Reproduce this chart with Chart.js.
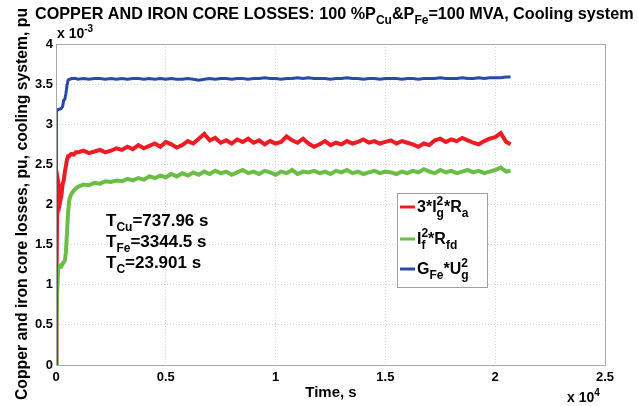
<!DOCTYPE html>
<html><head><meta charset="utf-8">
<script src="https://cdn.jsdelivr.net/npm/chart.js@4/dist/chart.umd.min.js"></script>
<style>html,body{margin:0;padding:0;background:#fff}#wrap{width:638px;height:406px;position:relative}</style>
</head><body><div id="wrap"><canvas id="c" width="638" height="406"></canvas></div>
<script>
// Time, s
const time = [0,20,50,100,150,200,250,300,350,400,450,500,550,600,650,700,800,900,
1000,1250,1500,1750,2000,2250,2500,2750,3000,3250,
3500,3750,4000,4250,4500,4750,5000,5250,5500,5750,
6000,6250,6500,6750,7000,7250,7500,7750,8000,8250,
8500,8750,9000,9250,9500,9750,10000,10250,10500,10750,
11000,11250,11500,11750,12000,12250,12500,12750,13000,13250,
13500,13750,14000,14250,14500,14750,15000,15250,15500,15750,
16000,16250,16500,16750,17000,17250,17500,17750,18000,18250,
18500,18750,19000,19250,19500,19750,20000,20250,20500,20700];
// 3*Ig^2*Ra  (x 10^-3 pu)
const copperLoss = [0,0.9,1.9,2.28,2.2,2.05,2.12,2.25,2.3,2.4,2.48,2.56,2.6,2.6,2.62,2.63,2.62,2.65,
2.65,2.67,2.64,2.66,2.68,2.65,2.67,2.70,2.68,2.72,
2.69,2.74,2.70,2.73,2.76,2.72,2.78,2.75,2.71,2.74,
2.79,2.76,2.82,2.88,2.80,2.83,2.77,2.80,2.76,2.81,
2.78,2.82,2.77,2.80,2.75,2.79,2.76,2.78,2.85,2.80,
2.77,2.82,2.76,2.72,2.75,2.79,2.74,2.77,2.75,2.79,
2.76,2.78,2.81,2.77,2.79,2.76,2.78,2.80,2.76,2.79,
2.77,2.75,2.72,2.76,2.74,2.80,2.82,2.78,2.81,2.79,
2.83,2.80,2.77,2.75,2.79,2.82,2.84,2.89,2.78,2.75];
// If^2*Rfd
const fieldLoss = [0,0.55,0.9,1.2,1.22,1.24,1.23,1.26,1.28,1.3,1.4,1.65,1.9,2.05,2.1,2.13,2.17,2.2,
2.22,2.25,2.24,2.27,2.26,2.29,2.28,2.30,2.29,2.32,
2.30,2.33,2.31,2.35,2.33,2.36,2.34,2.38,2.35,2.39,
2.36,2.40,2.37,2.41,2.38,2.42,2.39,2.41,2.37,2.40,
2.43,2.39,2.41,2.38,2.42,2.40,2.37,2.41,2.39,2.43,
2.38,2.41,2.40,2.42,2.39,2.41,2.38,2.42,2.40,2.43,
2.39,2.41,2.38,2.40,2.42,2.39,2.41,2.40,2.38,2.41,
2.39,2.42,2.40,2.44,2.41,2.39,2.43,2.40,2.42,2.39,
2.41,2.43,2.40,2.42,2.39,2.41,2.43,2.46,2.41,2.42];
// GFe*Ug^2
const ironLoss = [0,3.16,3.18,3.18,3.19,3.19,3.2,3.22,3.3,3.31,3.38,3.48,3.55,3.56,3.56,3.57,3.57,3.57,
3.56,3.57,3.56,3.57,3.57,3.56,3.57,3.56,3.57,3.56,
3.57,3.57,3.56,3.57,3.56,3.57,3.56,3.57,3.56,3.56,
3.57,3.56,3.55,3.56,3.57,3.56,3.57,3.57,3.56,3.57,
3.57,3.56,3.57,3.57,3.58,3.57,3.57,3.56,3.57,3.57,
3.58,3.57,3.58,3.57,3.57,3.57,3.56,3.57,3.57,3.58,
3.57,3.57,3.56,3.57,3.57,3.56,3.57,3.57,3.57,3.56,
3.57,3.57,3.56,3.57,3.57,3.57,3.58,3.57,3.57,3.57,
3.58,3.57,3.57,3.58,3.57,3.58,3.58,3.58,3.59,3.59];
const xTickValues = [0,5000,10000,15000,20000,25000];
const yTickValues = [0,0.5,1,1.5,2,2.5,3,3.5,4];

const FONT = '"Liberation Sans", Arial, sans-serif';
const RED = 'rgb(237,28,36)', GREEN = 'rgb(106,189,69)', BLUE = 'rgb(40,75,165)';

function pts(arr){ return time.map((t,i)=>({x:t,y:arr[i]})); }

// rich text: segs = [[text, mode]] mode 0 normal, 1 sub, 2 sup ; or {sub, sup} stacked
function richWidth(ctx, segs, size){
  let w=0;
  for(const s of segs){
    if(Array.isArray(s)){
      ctx.font = 'bold '+(s[1]?Math.round(size*0.72):size)+'px '+FONT;
      w += ctx.measureText(s[0]).width;
    } else {
      ctx.font = 'bold '+Math.round(size*0.72)+'px '+FONT;
      w += Math.max(ctx.measureText(s.sub).width, ctx.measureText(s.sup).width);
    }
  }
  return w;
}
function drawRich(ctx, x, y, segs, size){
  ctx.textBaseline='alphabetic'; ctx.textAlign='left'; ctx.fillStyle='#000';
  const ss = Math.round(size*0.72);
  for(const s of segs){
    if(Array.isArray(s)){
      ctx.font = 'bold '+(s[1]?ss:size)+'px '+FONT;
      const dy = s[1]===1 ? size*0.32 : (s[1]===2 ? -size*0.42 : 0);
      ctx.fillText(s[0], x, y+dy);
      x += ctx.measureText(s[0]).width;
    } else {
      ctx.font = 'bold '+ss+'px '+FONT;
      ctx.fillText(s.sup, x, y-size*0.42);
      ctx.fillText(s.sub, x, y+size*0.32);
      x += Math.max(ctx.measureText(s.sub).width, ctx.measureText(s.sup).width);
    }
  }
  return x;
}

const legendItems = [
  {color:RED,   segs:[['3*I',0],{sub:'g',sup:'2'},['*R',0],['a',1]]},
  {color:GREEN, segs:[['I',0],{sub:'f',sup:'2'},['*R',0],['fd',1]]},
  {color:BLUE,  segs:[['G',0],['Fe',1],['*U',0],{sub:'g',sup:'2'}]}
];
const notes = [
  [['T',0],['Cu',1],['=737.96 s',0]],
  [['T',0],['Fe',1],['=3344.5 s',0]],
  [['T',0],['C',1],['=23.901 s',0]]
];
const titleSegs = [['COPPER AND IRON CORE LOSSES: 100 %P',0],['Cu',1],['&P',0],['Fe',1],['=100 MVA, Cooling system',0]];
const yTitle = 'Copper and iron core losses, pu, cooling system, pu';
const xTitle = 'Time, s';

const decor = {
  id:'decor',
  afterDatasetsDraw(chart){
    const ctx = chart.ctx, a = chart.chartArea;
    ctx.save();
    ctx.strokeStyle = '#a9a9a9'; ctx.lineWidth = 1; ctx.setLineDash([]);
    ctx.strokeRect(Math.round(a.left)+0.5, Math.round(a.top)+0.5, Math.round(a.right-a.left), Math.round(a.bottom-a.top));
    ctx.restore();
  },
  afterDraw(chart){
    const ctx = chart.ctx, a = chart.chartArea;
    ctx.save();
    let ts = 14;
    const tw = richWidth(ctx, titleSegs, ts);
    ts = ts * 598 / tw;
    drawRich(ctx, 35, 19, titleSegs, ts);
    drawRich(ctx, a.left+1, 38, [['x 10',0],['-3',2]], 14);
    drawRich(ctx, 567, 402, [['x 10',0],['4',2]], 14);
    ctx.font = 'bold 15px '+FONT; ctx.fillStyle='#000'; ctx.textAlign='center'; ctx.textBaseline='alphabetic';
    ctx.fillText(xTitle, 331, 397);
    ctx.save();
    ctx.translate(27, 400); ctx.rotate(-Math.PI/2);
    let ys = 15;
    ctx.font = 'bold '+ys+'px '+FONT;
    ys = ys * 392 / ctx.measureText(yTitle).width;
    ctx.font = 'bold '+ys.toFixed(2)+'px '+FONT;
    ctx.textAlign='left';
    ctx.fillText(yTitle, 0, 0);
    ctx.restore();
    notes.forEach((n,i)=>drawRich(ctx, 106, 226+i*21, n, 17));
    const lx = 397, ly = 193, lw = 90, lh = 94;
    ctx.fillStyle='#fff'; ctx.fillRect(lx,ly,lw,lh);
    ctx.strokeStyle='#a0a0a0'; ctx.lineWidth=1; ctx.strokeRect(lx+0.5,ly+0.5,lw,lh);
    const rows=[207,239,269];
    legendItems.forEach((it,i)=>{
      ctx.strokeStyle = it.color; ctx.lineWidth=3;
      ctx.beginPath(); ctx.moveTo(400, rows[i]); ctx.lineTo(415, rows[i]); ctx.stroke();
      drawRich(ctx, 417, rows[i]+5, it.segs, 16);
    });
    ctx.restore();
  }
};

new Chart(document.getElementById('c'), {
  type:'line',
  data:{ datasets:[
    {label:'3*Ig^2*Ra', data:pts(copperLoss), borderColor:RED, borderWidth:4, pointRadius:0, order:3},
    {label:'If^2*Rfd', data:pts(fieldLoss), borderColor:GREEN, borderWidth:4, pointRadius:0, order:2},
    {label:'GFe*Ug^2', data:pts(ironLoss), borderColor:BLUE, borderWidth:3, pointRadius:0, order:1}
  ]},
  options:{
    responsive:false, animation:false, devicePixelRatio:1,
    layout:{padding:{left:0, top:44, right:33, bottom:0}},
    plugins:{legend:{display:false}, tooltip:{enabled:false}, title:{display:false}},
    scales:{
      x:{type:'linear', min:0, max:25000,
        afterBuildTicks(s){ s.ticks = xTickValues.map(v=>({value:v})); },
        afterFit(s){ s.height = 41; },
        ticks:{callback:v=>String(v/10000), color:'#000', font:{family:FONT, size:13, weight:'bold'}, maxRotation:0, padding:5},
        grid:{color:'#d4d4d4', drawTicks:false},
        border:{display:false, dash:[1,2]}
      },
      y:{type:'linear', min:0, max:4,
        afterBuildTicks(s){ s.ticks = yTickValues.map(v=>({value:v})); },
        afterFit(s){ s.width = 56; },
        ticks:{callback:v=>String(v), color:'#000', font:{family:FONT, size:13, weight:'bold'}, padding:3},
        grid:{color:'#d4d4d4', drawTicks:false},
        border:{display:false, dash:[1,2]}
      }
    }
  },
  plugins:[decor]
});
</script></body></html>
